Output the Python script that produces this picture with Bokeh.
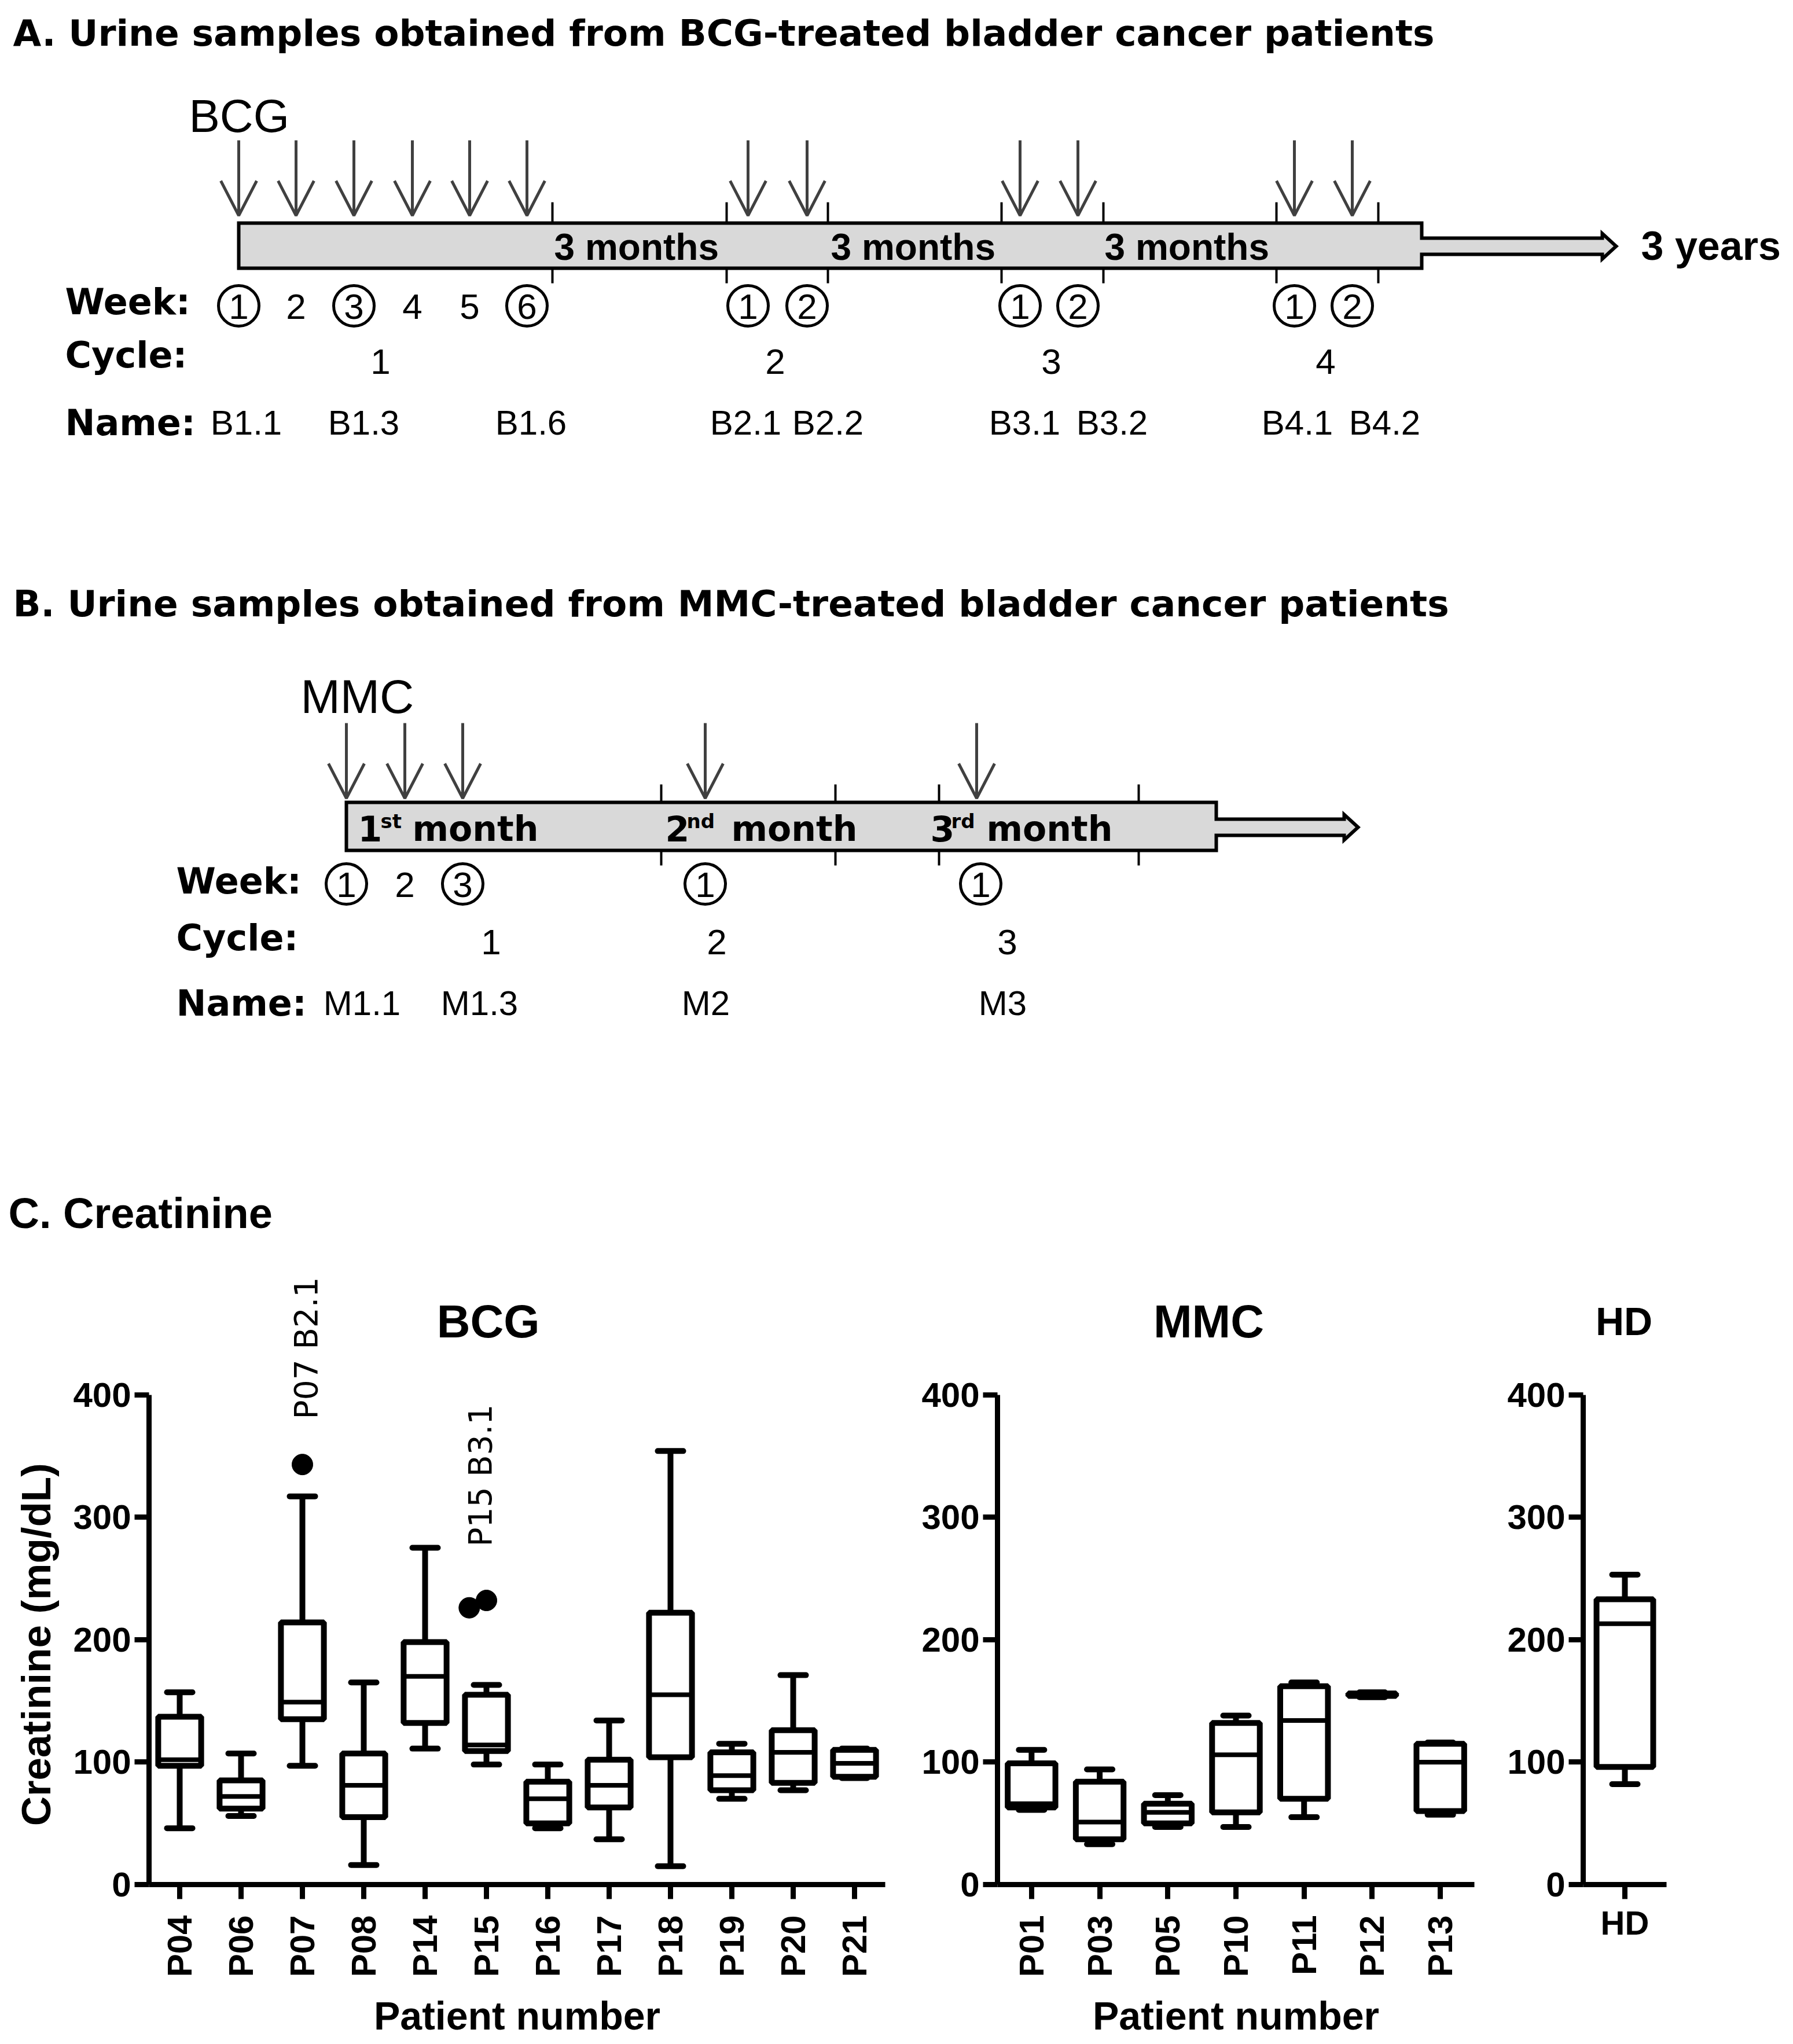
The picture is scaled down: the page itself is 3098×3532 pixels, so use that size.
import math
from bokeh.plotting import figure
from bokeh.layouts import column, row
from bokeh.models import Range1d, FactorRange, FixedTicker, ColumnDataSource
from bokeh.transform import dodge
from bokeh.core.properties import value
from bokeh.embed import file_html
from bokeh.resources import INLINE

# ======================= DATA =======================
# Panel A (BCG schedule)
title_A = "A. Urine samples obtained from BCG-treated bladder cancer patients"
weeks_A = ["1", "2", "3", "4", "5", "6", "1", "2", "1", "2", "1", "2"]
weeks_A_sampled = [True, False, True, False, False, True, True, True, True, True, True, True]
cycles_A = ["1", "2", "3", "4"]
names_A = ["B1.1", "B1.3", "B1.6", "B2.1", "B2.2", "B3.1", "B3.2", "B4.1", "B4.2"]
period_A = ["3 months", "3 months", "3 months"]

# Panel B (MMC schedule)
title_B = "B. Urine samples obtained from MMC-treated bladder cancer patients"
weeks_B = ["1", "2", "3", "1", "1"]
weeks_B_sampled = [True, False, True, True, True]
cycles_B = ["1", "2", "3"]
names_B = ["M1.1", "M1.3", "M2", "M3"]
month_num_B = ["1", "2", "3"]
month_sup_B = ["st", "nd", "rd"]

# Panel C (creatinine, mg/dL): min, Q1, median, Q3, max
bcg_patients = ["P04", "P06", "P07", "P08", "P14", "P15", "P16", "P17", "P18", "P19", "P20", "P21"]
bcg_min = [46, 56, 97, 16, 111, 98, 46, 37, 15, 70, 77, 87]
bcg_q1 = [97, 62, 135, 55, 132, 109, 50, 63, 104, 77, 83, 88]
bcg_med = [102, 72, 149, 81, 170, 114, 70, 81, 155, 89, 108, 99]
bcg_q3 = [137, 85, 214, 107, 198, 155, 84, 102, 222, 108, 126, 110]
bcg_max = [157, 107, 317, 165, 275, 163, 98, 134, 354, 115, 171, 111]
bcg_out_patient = ["P07", "P15", "P15"]
bcg_out_value = [343, 226, 232]
bcg_out_label = ["P07 B2.1", "P15 B3.1"]
bcg_out_label_patient = ["P07", "P15"]

mmc_patients = ["P01", "P03", "P05", "P10", "P11", "P12", "P13"]
mmc_min = [61, 33, 47, 47, 55, 153, 57]
mmc_q1 = [63, 37, 50, 59, 70, 154, 60]
mmc_med = [66, 51, 59, 106, 134, 155, 100]
mmc_q3 = [99, 84, 66, 132, 162, 156, 115]
mmc_max = [110, 94, 73, 138, 165, 157, 116]

hd_groups = ["HD"]
hd_min = [82]
hd_q1 = [96]
hd_med = [213]
hd_q3 = [233]
hd_max = [253]

y_ticks = [0, 100, 200, 300, 400]

# ======================= LAYOUT (pixels) =======================
W = 3082
H1 = 2148
ARROW = "#404040"
BAR_FILL = "#d9d9d9"
ARIAL = value("Liberation Sans")
DEJA = value("DejaVu Sans")

d = figure(width=W, height=H1, x_range=Range1d(0, W), y_range=Range1d(H1, 0),
           x_axis_location=None, y_axis_location=None, output_backend="svg",
           toolbar_location=None, min_border=0)
d.grid.visible = False
d.outline_line_color = None


def txt(xs, ys, labels, font=ARIAL, size=60, bold=False, align="left"):
    d.text(x=xs, y=ys, text=labels, text_font=font, text_font_size=f"{size}px",
           text_font_style="bold" if bold else "normal", text_align=align,
           text_baseline="middle", text_color="black")


def timeline(arrow_x, y_arrow_top, y_tip, bar_x0, bar_x1, bar_y0, bar_y1, ext_x1,
             shaft_y0, shaft_y1, tick_x, tick_top, tick_bot):
    n = len(arrow_x)
    d.segment(x0=arrow_x, y0=[y_arrow_top] * n, x1=arrow_x, y1=[y_tip] * n,
              line_color=ARROW, line_width=5)
    d.multi_line(xs=[[x - 31, x, x + 31] for x in arrow_x], ys=[[y_tip - 60, y_tip, y_tip - 60]] * n,
                 line_color=ARROW, line_width=5)
    mid = (shaft_y0 + shaft_y1) / 2
    xs = [bar_x0, bar_x1, bar_x1, ext_x1 - 24, ext_x1 - 24, ext_x1, ext_x1 - 24, ext_x1 - 24,
          bar_x1, bar_x1, bar_x0]
    ys = [bar_y0, bar_y0, shaft_y0, shaft_y0, shaft_y0 - 8, mid, shaft_y1 + 8, shaft_y1,
          shaft_y1, bar_y1, bar_y1]
    d.patch(xs, ys, fill_color=BAR_FILL, line_color="black", line_width=6, line_join="miter")
    m = len(tick_x)
    d.segment(x0=tick_x, y0=[tick_top] * m, x1=tick_x, y1=[bar_y0] * m, line_color="black", line_width=4)
    d.segment(x0=tick_x, y0=[bar_y1] * m, x1=tick_x, y1=[tick_bot] * m, line_color="black", line_width=4)


def week_row(xs, labels, sampled, yc):
    cx = [x for x, s in zip(xs, sampled) if s]
    d.circle(x=cx, y=[yc] * len(cx), radius=35, fill_color=None, line_color="black", line_width=5)
    txt(xs, [yc + 1] * len(xs), labels, size=62, align="center")


def row_labels(x, ys):
    txt([x] * 3, ys, ["Week:", "Cycle:", "Name:"], font=DEJA, size=62, bold=True)


# ---- Panel A ----
txt([22], [57], [title_A], font=DEJA, size=63, bold=True)
txt([326], [200], ["BCG"], size=80)
arrows_A = [412, 511, 611, 712, 811, 910, 1292, 1394, 1762, 1862, 2236, 2336]
timeline(arrows_A, 242, 372, 412, 2456, 385, 463, 2792, 411, 439,
         [954, 1255, 1430, 1730, 1906, 2205, 2381], 349, 489)
txt([957, 1435, 1908], [426] * 3, period_A, size=64, bold=True)
txt([2835], [424], ["3 years"], size=70, bold=True)
row_labels(112, [521, 613, 730])
week_row(arrows_A, weeks_A, weeks_A_sampled, 528)
txt([657, 1339, 1816, 2290], [624] * 4, cycles_A, size=62, align="center")
txt([425, 628, 917, 1288, 1430, 1770, 1921, 2241, 2392], [730] * 9, names_A, size=60, align="center")

# ---- Panel B ----
txt([22], [1043], [title_B], font=DEJA, size=63, bold=True)
txt([519], [1203], ["MMC"], size=82)
arrows_B = [598, 699, 799, 1218, 1687]
timeline(arrows_B, 1249, 1379, 598, 2101, 1386, 1469, 2346, 1415, 1443,
         [1142, 1443, 1622, 1967], 1355, 1495)
txt([618, 1149, 1607], [1431] * 3, month_num_B, font=DEJA, size=60, bold=True)
txt([657, 1186, 1643], [1418] * 3, month_sup_B, font=DEJA, size=34, bold=True)
txt([712, 1263, 1704], [1431] * 3, ["month"] * 3, font=DEJA, size=60, bold=True)
row_labels(304, [1522, 1620, 1733])
week_row([598, 699, 799, 1218, 1694], weeks_B, weeks_B_sampled, 1527)
txt([848, 1238, 1740], [1627] * 3, cycles_B, size=62, align="center")
txt([625, 828, 1219, 1732], [1733] * 4, names_B, size=60, align="center")

# ---- Panel C heading ----
txt([14], [2096], ["C. Creatinine"], size=74, bold=True)

# ======================= BOX PLOTS =======================
H2 = 3524 - H1
FRAME_H = 1108
BOTTOM = H2 - FRAME_H
K = 846.5 / 400.0           # px per mg/dL
YMAX = FRAME_H / K


def box_fig(cats, lo, q1, med, q3, hi, width, left, frame_w, title, title_x, title_size,
            xlabel, vertical=True):
    step = frame_w / len(cats)
    p = figure(width=width, height=H2, x_range=FactorRange(factors=cats), y_range=Range1d(0, YMAX),
               output_backend="svg", toolbar_location=None,
               min_border_left=left, min_border_right=width - left - frame_w,
               min_border_top=0, min_border_bottom=BOTTOM)
    p.grid.visible = False
    p.outline_line_color = None
    src = ColumnDataSource(dict(cat=cats, lo=lo, q1=q1, med=med, q3=q3, hi=hi))
    cap = 22.0 / step
    half = 0.35 if len(cats) > 1 else 0.34
    lw = 10
    p.segment(x0="cat", y0="lo", x1="cat", y1="q1", source=src, line_color="black", line_width=lw)
    p.segment(x0="cat", y0="q3", x1="cat", y1="hi", source=src, line_color="black", line_width=lw)
    for col in ("lo", "hi"):
        p.segment(x0=dodge("cat", -cap, range=p.x_range), y0=col,
                  x1=dodge("cat", cap, range=p.x_range), y1=col, source=src,
                  line_color="black", line_width=lw, line_cap="round")
    p.vbar(x="cat", width=2 * half, bottom="q1", top="q3", source=src, fill_color="white",
           line_color="black", line_width=lw)
    p.segment(x0=dodge("cat", -half, range=p.x_range), y0="med",
              x1=dodge("cat", half, range=p.x_range), y1="med", source=src,
              line_color="black", line_width=8)
    p.text(x=[title_x], y=[460], text=[title], text_font=ARIAL, text_font_style="bold",
           text_font_size=f"{title_size}px", text_align="center", text_baseline="middle")

    ya = p.yaxis[0]
    ya.ticker = FixedTicker(ticks=y_ticks)
    ya.bounds = (0, 400)
    ya.minor_tick_line_color = None
    xa = p.xaxis[0]
    for ax in (xa, ya):
        ax.axis_line_width = 9
        ax.major_tick_line_width = 9
        ax.major_tick_out = 25
        ax.major_tick_in = 0
        ax.axis_line_color = "black"
        ax.major_tick_line_color = "black"
        ax.major_label_text_font = "Liberation Sans"
        ax.major_label_text_font_style = "bold"
        ax.major_label_text_color = "black"
        ax.major_label_text_font_size = "60px"
    ya.major_label_standoff = 6
    xa.major_label_standoff = 28
    if vertical:
        xa.major_label_orientation = math.pi / 2
    else:
        xa.major_label_text_font_size = "58px"
        xa.major_label_standoff = 8
    if xlabel:
        xa.axis_label = xlabel
        xa.axis_label_text_font = "Liberation Sans"
        xa.axis_label_text_font_style = "bold"
        xa.axis_label_text_font_size = "68px"
        xa.axis_label_text_color = "black"
        xa.axis_label_standoff = 26
    return p


# y-axis title panel
YL_W = 110
yl = figure(width=YL_W, height=H2, x_range=Range1d(0, YL_W), y_range=Range1d(0, YMAX),
            x_axis_location=None, y_axis_location=None, output_backend="svg",
            toolbar_location=None, min_border_left=0, min_border_right=0,
            min_border_top=0, min_border_bottom=BOTTOM)
yl.grid.visible = False
yl.outline_line_color = None
yl.text(x=[62], y=[196], text=["Creatinine (mg/dL)"], angle=math.pi / 2, text_font=ARIAL,
        text_font_style="bold", text_font_size="71px", text_align="center",
        text_baseline="middle", text_color="black")

# BCG
p1 = box_fig(bcg_patients, bcg_min, bcg_q1, bcg_med, bcg_q3, bcg_max,
             1450, 147, 1272, "BCG", 5.53, 80, "Patient number")
p1.scatter(x=[(c, dx) for c, dx in zip(bcg_out_patient, [0.0, -0.28, 0.0])], y=bcg_out_value,
           size=36, marker="circle", fill_color="black", line_color="black")
p1.text(x=[(c, dx) for c, dx in zip(bcg_out_label_patient, [0.06, -0.10])], y=[438, 334],
        text=bcg_out_label, angle=math.pi / 2, text_font=DEJA, text_font_size="55px",
        text_align="center", text_baseline="middle", text_color="black")

# MMC
p2 = box_fig(mmc_patients, mmc_min, mmc_q1, mmc_med, mmc_q3, mmc_max,
             1040, 163, 824, "MMC", 3.1, 80, "Patient number")

# HD
p3 = box_fig(hd_groups, hd_min, hd_q1, hd_med, hd_q3, hd_max,
             482, 135, 144, "HD", 0.49, 68, None, vertical=False)

layout = column(d, row(yl, p1, p2, p3))
open("out.html", "w").write(file_html(layout, INLINE))
